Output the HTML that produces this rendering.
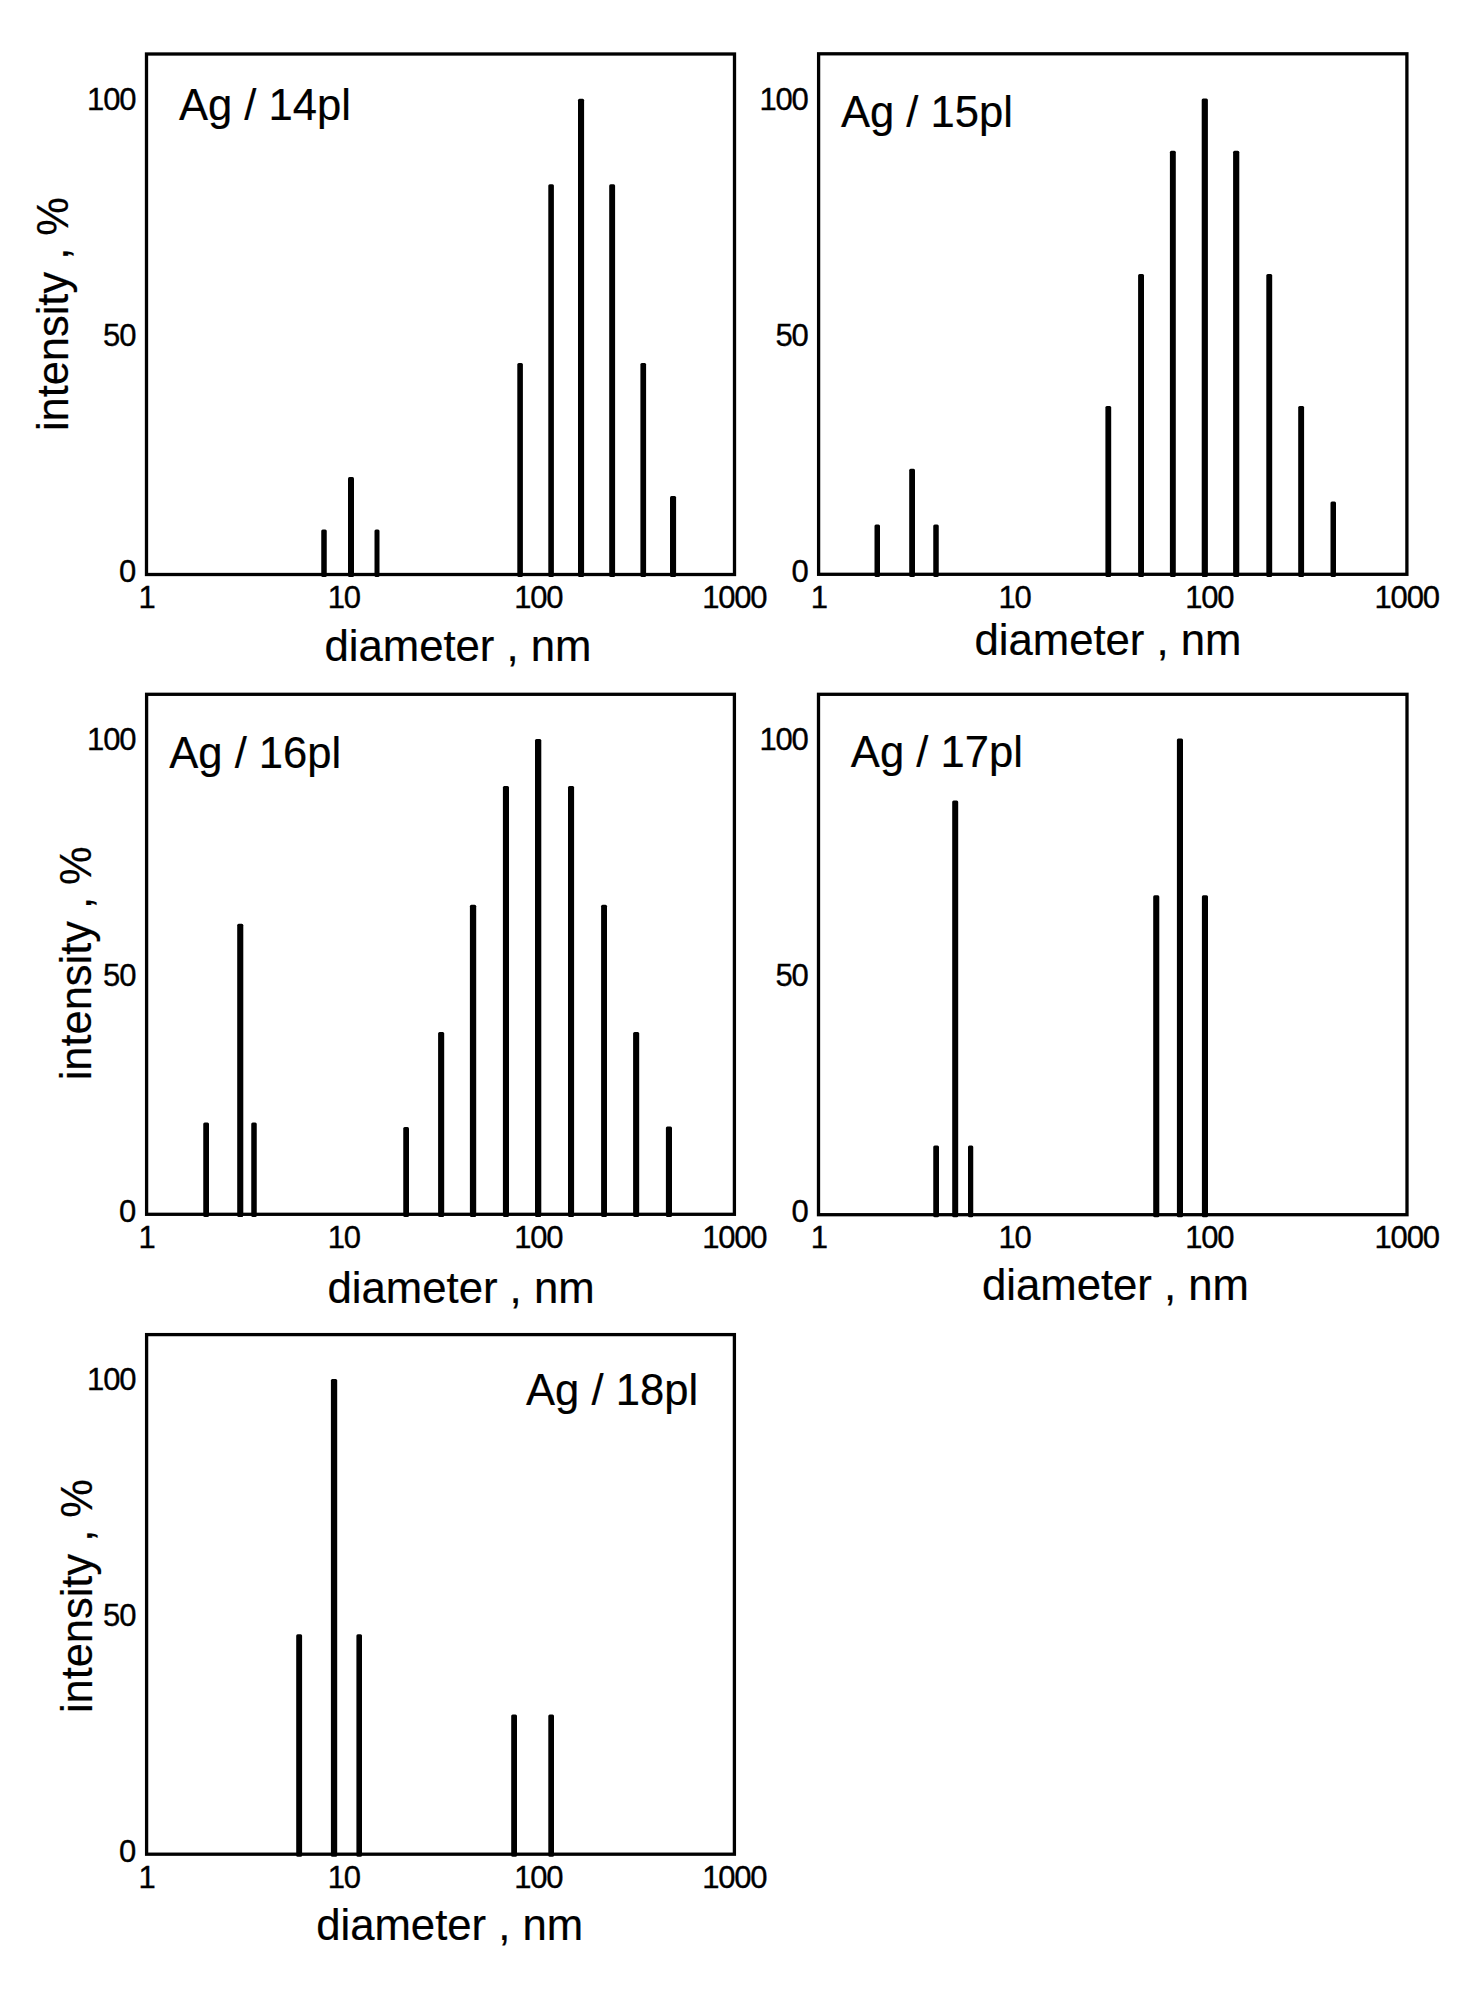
<!DOCTYPE html>
<html lang="en">
<head>
<meta charset="utf-8">
<title>Particle size distributions</title>
<style>
html,body{margin:0;padding:0;background:#fff}
svg{display:block}
text{font-family:"Liberation Sans", Arial, sans-serif;fill:#000;stroke:#000;stroke-width:0.2}
.t{stroke-width:0.35}
.f{fill:none;stroke:#000;stroke-width:3.3}
.b{fill:#000}
</style>
</head>
<body>
<svg width="1481" height="1993" viewBox="0 0 1481 1993">
<rect width="1481" height="1993" fill="#fff"/>
<g id="panel1">
<rect class="b" x="321.25" y="529.50" width="5.50" height="47.60" rx="1.5"/>
<rect class="b" x="348.00" y="477.00" width="6.00" height="100.10" rx="1.5"/>
<rect class="b" x="374.50" y="529.50" width="5.00" height="47.60" rx="1.5"/>
<rect class="b" x="517.30" y="363.00" width="5.60" height="214.10" rx="1.5"/>
<rect class="b" x="548.30" y="184.20" width="5.60" height="392.90" rx="1.5"/>
<rect class="b" x="578.00" y="98.70" width="6.10" height="478.40" rx="1.5"/>
<rect class="b" x="609.20" y="184.20" width="5.90" height="392.90" rx="1.5"/>
<rect class="b" x="640.40" y="363.00" width="5.70" height="214.10" rx="1.5"/>
<rect class="b" x="670.00" y="496.10" width="6.10" height="81.00" rx="1.5"/>
<rect class="f" x="146.50" y="54.00" width="588.00" height="520.50"/>
</g>
<g id="panel2">
<rect class="b" x="874.50" y="524.50" width="5.50" height="52.40" rx="1.5"/>
<rect class="b" x="909.20" y="468.75" width="5.80" height="108.15" rx="1.5"/>
<rect class="b" x="933.25" y="524.50" width="5.50" height="52.40" rx="1.5"/>
<rect class="b" x="1105.40" y="406.00" width="5.80" height="170.90" rx="1.5"/>
<rect class="b" x="1138.10" y="273.90" width="5.90" height="303.00" rx="1.5"/>
<rect class="b" x="1169.90" y="150.70" width="5.90" height="426.20" rx="1.5"/>
<rect class="b" x="1201.70" y="98.60" width="6.20" height="478.30" rx="1.5"/>
<rect class="b" x="1233.10" y="150.70" width="6.20" height="426.20" rx="1.5"/>
<rect class="b" x="1266.30" y="273.90" width="5.90" height="303.00" rx="1.5"/>
<rect class="b" x="1298.20" y="406.00" width="5.90" height="170.90" rx="1.5"/>
<rect class="b" x="1330.50" y="501.50" width="5.50" height="75.40" rx="1.5"/>
<rect class="f" x="818.60" y="53.80" width="588.30" height="520.50"/>
</g>
<g id="panel3">
<rect class="b" x="203.25" y="1122.50" width="5.75" height="94.40" rx="1.5"/>
<rect class="b" x="237.20" y="923.75" width="6.10" height="293.15" rx="1.5"/>
<rect class="b" x="251.25" y="1122.50" width="5.50" height="94.40" rx="1.5"/>
<rect class="b" x="403.25" y="1127.00" width="5.75" height="89.90" rx="1.5"/>
<rect class="b" x="438.10" y="1032.00" width="6.10" height="184.90" rx="1.5"/>
<rect class="b" x="469.90" y="904.70" width="6.30" height="312.20" rx="1.5"/>
<rect class="b" x="502.90" y="785.90" width="6.10" height="431.00" rx="1.5"/>
<rect class="b" x="535.00" y="738.90" width="6.30" height="478.00" rx="1.5"/>
<rect class="b" x="568.00" y="785.90" width="6.10" height="431.00" rx="1.5"/>
<rect class="b" x="601.10" y="904.70" width="5.90" height="312.20" rx="1.5"/>
<rect class="b" x="633.10" y="1032.00" width="6.10" height="184.90" rx="1.5"/>
<rect class="b" x="665.90" y="1126.60" width="6.10" height="90.30" rx="1.5"/>
<rect class="f" x="146.60" y="694.30" width="587.80" height="520.00"/>
</g>
<g id="panel4">
<rect class="b" x="933.25" y="1145.50" width="5.75" height="71.80" rx="1.5"/>
<rect class="b" x="952.20" y="800.50" width="6.00" height="416.80" rx="1.5"/>
<rect class="b" x="968.00" y="1145.50" width="5.25" height="71.80" rx="1.5"/>
<rect class="b" x="1153.20" y="895.30" width="6.10" height="322.00" rx="1.5"/>
<rect class="b" x="1176.90" y="738.60" width="6.10" height="478.70" rx="1.5"/>
<rect class="b" x="1201.90" y="895.30" width="6.10" height="322.00" rx="1.5"/>
<rect class="f" x="818.50" y="694.30" width="588.50" height="520.40"/>
</g>
<g id="panel5">
<rect class="b" x="296.20" y="1634.30" width="5.90" height="222.50" rx="1.5"/>
<rect class="b" x="330.90" y="1379.00" width="6.30" height="477.80" rx="1.5"/>
<rect class="b" x="356.40" y="1634.30" width="5.60" height="222.50" rx="1.5"/>
<rect class="b" x="511.20" y="1714.40" width="5.80" height="142.40" rx="1.5"/>
<rect class="b" x="548.30" y="1714.40" width="5.70" height="142.40" rx="1.5"/>
<rect class="f" x="146.60" y="1334.60" width="587.80" height="519.60"/>
</g>
<text class="t" x="87.10" y="109.85" font-size="31" letter-spacing="-1.2">100</text>
<text class="t" x="103.10" y="346.05" font-size="31" letter-spacing="-1.2">50</text>
<text class="t" x="119.10" y="581.85" font-size="31" letter-spacing="-1.2">0</text>
<text class="t" x="759.50" y="109.85" font-size="31" letter-spacing="-1.2">100</text>
<text class="t" x="775.50" y="346.05" font-size="31" letter-spacing="-1.2">50</text>
<text class="t" x="791.50" y="581.85" font-size="31" letter-spacing="-1.2">0</text>
<text class="t" x="87.10" y="749.85" font-size="31" letter-spacing="-1.2">100</text>
<text class="t" x="103.10" y="986.05" font-size="31" letter-spacing="-1.2">50</text>
<text class="t" x="119.10" y="1221.85" font-size="31" letter-spacing="-1.2">0</text>
<text class="t" x="759.50" y="749.85" font-size="31" letter-spacing="-1.2">100</text>
<text class="t" x="775.50" y="986.05" font-size="31" letter-spacing="-1.2">50</text>
<text class="t" x="791.50" y="1221.85" font-size="31" letter-spacing="-1.2">0</text>
<text class="t" x="87.10" y="1389.85" font-size="31" letter-spacing="-1.2">100</text>
<text class="t" x="103.10" y="1626.05" font-size="31" letter-spacing="-1.2">50</text>
<text class="t" x="119.10" y="1861.85" font-size="31" letter-spacing="-1.2">0</text>
<text class="t" x="138.55" y="608.10" font-size="31" letter-spacing="-1.2">1</text>
<text class="t" x="327.75" y="607.85" font-size="31" letter-spacing="-1.2">10</text>
<text class="t" x="514.25" y="607.85" font-size="31" letter-spacing="-1.2">100</text>
<text class="t" x="702.15" y="607.85" font-size="31" letter-spacing="-1.2">1000</text>
<text class="t" x="810.75" y="608.00" font-size="31" letter-spacing="-1.2">1</text>
<text class="t" x="998.50" y="607.75" font-size="31" letter-spacing="-1.2">10</text>
<text class="t" x="1185.15" y="607.75" font-size="31" letter-spacing="-1.2">100</text>
<text class="t" x="1374.55" y="607.75" font-size="31" letter-spacing="-1.2">1000</text>
<text class="t" x="138.55" y="1248.10" font-size="31" letter-spacing="-1.2">1</text>
<text class="t" x="327.75" y="1247.85" font-size="31" letter-spacing="-1.2">10</text>
<text class="t" x="514.25" y="1247.85" font-size="31" letter-spacing="-1.2">100</text>
<text class="t" x="702.15" y="1247.85" font-size="31" letter-spacing="-1.2">1000</text>
<text class="t" x="810.75" y="1248.00" font-size="31" letter-spacing="-1.2">1</text>
<text class="t" x="998.50" y="1247.75" font-size="31" letter-spacing="-1.2">10</text>
<text class="t" x="1185.15" y="1247.75" font-size="31" letter-spacing="-1.2">100</text>
<text class="t" x="1374.55" y="1247.75" font-size="31" letter-spacing="-1.2">1000</text>
<text class="t" x="138.55" y="1887.90" font-size="31" letter-spacing="-1.2">1</text>
<text class="t" x="327.75" y="1887.65" font-size="31" letter-spacing="-1.2">10</text>
<text class="t" x="514.25" y="1887.65" font-size="31" letter-spacing="-1.2">100</text>
<text class="t" x="702.15" y="1887.65" font-size="31" letter-spacing="-1.2">1000</text>
<text transform="translate(178.95 119.80) scale(1 1.02)" font-size="43.6">Ag / 14pl</text>
<text transform="translate(840.95 127.00) scale(1 1.02)" font-size="43.6">Ag / 15pl</text>
<text transform="translate(169.25 768.00) scale(1 1.02)" font-size="43.6">Ag / 16pl</text>
<text transform="translate(850.85 767.00) scale(1 1.02)" font-size="43.6">Ag / 17pl</text>
<text transform="translate(526.05 1404.60) scale(1 1.02)" font-size="43.6">Ag / 18pl</text>
<text x="324.45" y="660.50" font-size="43.7">diameter , nm</text>
<text x="974.45" y="654.50" font-size="43.7">diameter , nm</text>
<text x="327.50" y="1302.60" font-size="43.7">diameter , nm</text>
<text x="981.95" y="1300.00" font-size="43.7">diameter , nm</text>
<text x="316.15" y="1940.40" font-size="43.7">diameter , nm</text>
<text transform="translate(68.00 431.10) rotate(-90) scale(1 1.02)" font-size="43.4">intensity , %</text>
<text transform="translate(90.70 1080.30) rotate(-90) scale(1 1.02)" font-size="43.4">intensity , %</text>
<text transform="translate(91.90 1713.10) rotate(-90) scale(1 1.02)" font-size="43.4">intensity , %</text>
</svg>
</body>
</html>
